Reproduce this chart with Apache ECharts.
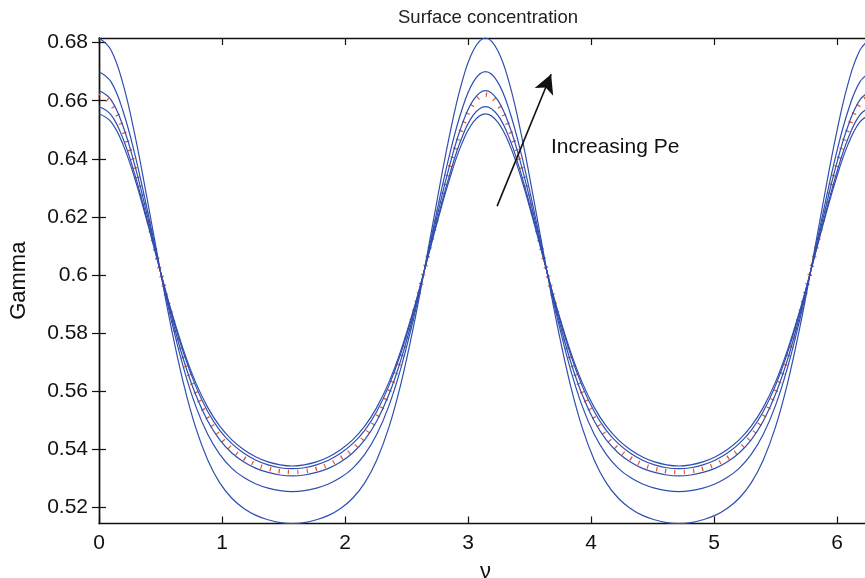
<!DOCTYPE html>
<html>
<head>
<meta charset="utf-8">
<script src="https://cdn.jsdelivr.net/npm/echarts@6/dist/echarts.min.js"></script>
<style>html,body{margin:0;padding:0;background:#fff;}#main{width:865px;height:578px;}</style>
</head>
<body>
<div id="main"></div>
<script>
// nu samples (k*pi/32)
var nu = [0, 0.0982, 0.1963, 0.2945, 0.3927, 0.4909, 0.5890, 0.6872, 0.7854, 0.8836, 0.9817, 1.0799, 1.1781, 1.2763, 1.3744, 1.4726, 1.5708, 1.6690, 1.7671, 1.8653, 1.9635, 2.0617, 2.1598, 2.2580, 2.3562, 2.4544, 2.5525, 2.6507, 2.7489, 2.8471, 2.9452, 3.0434, 3.1416, 3.2398, 3.3379, 3.4361, 3.5343, 3.6325, 3.7306, 3.8288, 3.9270, 4.0252, 4.1233, 4.2215, 4.3197, 4.4179, 4.5160, 4.6142, 4.7124, 4.8106, 4.9087, 5.0069, 5.1051, 5.2033, 5.3014, 5.3996, 5.4978, 5.5960, 5.6941, 5.7923, 5.8905, 5.9887, 6.0868, 6.1850, 6.2832];

var curveA = [0.6816, 0.6774, 0.6656, 0.6476, 0.6259, 0.6031, 0.5814, 0.5626, 0.5475, 0.5363, 0.5284, 0.5231, 0.5196, 0.5172, 0.5157, 0.5147, 0.5144,
0.5147, 0.5157, 0.5172, 0.5196, 0.5231, 0.5284, 0.5363, 0.5475, 0.5626, 0.5814, 0.6031, 0.6259, 0.6476, 0.6656, 0.6774, 0.6816,
0.6774, 0.6656, 0.6476, 0.6259, 0.6031, 0.5814, 0.5626, 0.5475, 0.5363, 0.5284, 0.5231, 0.5196, 0.5172, 0.5157, 0.5147, 0.5144,
0.5147, 0.5157, 0.5172, 0.5196, 0.5231, 0.5284, 0.5363, 0.5475, 0.5626, 0.5814, 0.6031, 0.6259, 0.6476, 0.6656, 0.6774, 0.6816];

var curveB = [0.6700, 0.6665, 0.6563, 0.6410, 0.6224, 0.6028, 0.5842, 0.5680, 0.5549, 0.5451, 0.5382, 0.5334, 0.5302, 0.5280, 0.5266, 0.5257, 0.5254,
0.5257, 0.5266, 0.5280, 0.5302, 0.5334, 0.5382, 0.5451, 0.5549, 0.5680, 0.5842, 0.6028, 0.6224, 0.6410, 0.6563, 0.6665, 0.6700,
0.6665, 0.6563, 0.6410, 0.6224, 0.6028, 0.5842, 0.5680, 0.5549, 0.5451, 0.5382, 0.5334, 0.5302, 0.5280, 0.5266, 0.5257, 0.5254,
0.5257, 0.5266, 0.5280, 0.5302, 0.5334, 0.5382, 0.5451, 0.5549, 0.5680, 0.5842, 0.6028, 0.6224, 0.6410, 0.6563, 0.6665, 0.6700];

var curveC = [0.6635, 0.6603, 0.6511, 0.6372, 0.6204, 0.6026, 0.5857, 0.5708, 0.5588, 0.5497, 0.5432, 0.5387, 0.5356, 0.5334, 0.5320, 0.5311, 0.5308,
0.5311, 0.5320, 0.5334, 0.5356, 0.5387, 0.5432, 0.5497, 0.5588, 0.5708, 0.5857, 0.6026, 0.6204, 0.6372, 0.6511, 0.6603, 0.6635,
0.6603, 0.6511, 0.6372, 0.6204, 0.6026, 0.5857, 0.5708, 0.5588, 0.5497, 0.5432, 0.5387, 0.5356, 0.5334, 0.5320, 0.5311, 0.5308,
0.5311, 0.5320, 0.5334, 0.5356, 0.5387, 0.5432, 0.5497, 0.5588, 0.5708, 0.5857, 0.6026, 0.6204, 0.6372, 0.6511, 0.6603, 0.6635];

var curveD = [0.6580, 0.6551, 0.6468, 0.6341, 0.6188, 0.6025, 0.5869, 0.5731, 0.5618, 0.5530, 0.5465, 0.5419, 0.5386, 0.5362, 0.5346, 0.5336, 0.5333,
0.5336, 0.5346, 0.5362, 0.5386, 0.5419, 0.5465, 0.5530, 0.5618, 0.5731, 0.5869, 0.6025, 0.6188, 0.6341, 0.6468, 0.6551, 0.6580,
0.6551, 0.6468, 0.6341, 0.6188, 0.6025, 0.5869, 0.5731, 0.5618, 0.5530, 0.5465, 0.5419, 0.5386, 0.5362, 0.5346, 0.5336, 0.5333,
0.5336, 0.5346, 0.5362, 0.5386, 0.5419, 0.5465, 0.5530, 0.5618, 0.5731, 0.5869, 0.6025, 0.6188, 0.6341, 0.6468, 0.6551, 0.6580];

var curveE = [0.6555, 0.6527, 0.6448, 0.6327, 0.6181, 0.6025, 0.5874, 0.5741, 0.5630, 0.5544, 0.5479, 0.5432, 0.5398, 0.5373, 0.5356, 0.5346, 0.5342,
0.5346, 0.5356, 0.5373, 0.5398, 0.5432, 0.5479, 0.5544, 0.5630, 0.5741, 0.5874, 0.6025, 0.6181, 0.6327, 0.6448, 0.6527, 0.6555,
0.6527, 0.6448, 0.6327, 0.6181, 0.6025, 0.5874, 0.5741, 0.5630, 0.5544, 0.5479, 0.5432, 0.5398, 0.5373, 0.5356, 0.5346, 0.5342,
0.5346, 0.5356, 0.5373, 0.5398, 0.5432, 0.5479, 0.5544, 0.5630, 0.5741, 0.5874, 0.6025, 0.6181, 0.6327, 0.6448, 0.6527, 0.6555];

var curveRed = [0.6621, 0.6590, 0.6500, 0.6364, 0.6200, 0.6026, 0.5860, 0.5715, 0.5597, 0.5508, 0.5444, 0.5399, 0.5369, 0.5347, 0.5333, 0.5324, 0.5321,
0.5324, 0.5333, 0.5347, 0.5369, 0.5399, 0.5444, 0.5508, 0.5597, 0.5715, 0.5860, 0.6026, 0.6200, 0.6364, 0.6500, 0.6590, 0.6621,
0.6590, 0.6500, 0.6364, 0.6200, 0.6026, 0.5860, 0.5715, 0.5597, 0.5508, 0.5444, 0.5399, 0.5369, 0.5347, 0.5333, 0.5324, 0.5321,
0.5324, 0.5333, 0.5347, 0.5369, 0.5399, 0.5444, 0.5508, 0.5597, 0.5715, 0.5860, 0.6026, 0.6200, 0.6364, 0.6500, 0.6590, 0.6621];

var xTicks = [0, 1, 2, 3, 4, 5, 6];
var xTickLabels = ['0', '1', '2', '3', '4', '5', '6'];
var yTicks = [0.52, 0.54, 0.56, 0.58, 0.60, 0.62, 0.64, 0.66, 0.68];
var yTickLabels = ['0.52', '0.54', '0.56', '0.58', '0.6', '0.62', '0.64', '0.66', '0.68'];
var arrowStart = [3.236, 0.6237];
var arrowEnd = [3.675, 0.6691];

var FONT = 'Liberation Sans, Arial, Helvetica, sans-serif';
var BLUE = '#2f4fb0';
var RED = '#ec4f25';

function pairs(arr) { return nu.map(function (x, i) { return [x, arr[i]]; }); }
function lbl(ticks, labels) {
  return function (v) {
    for (var i = 0; i < ticks.length; i++) if (Math.abs(ticks[i] - v) < 1e-6) return labels[i];
    return '';
  };
}

var axisLineStyle = { show: true, lineStyle: { color: '#111', width: 1.4 } };
var tickStyle = { show: true, inside: true, length: 7, lineStyle: { color: '#111', width: 1.2 } };

var chart = echarts.init(document.getElementById('main'), null, { renderer: 'canvas' });

function blue(name, arr) {
  return {
    name: name, type: 'line', data: pairs(arr), smooth: 0.4, symbol: 'none', z: 3,
    lineStyle: { color: BLUE, width: 1.2 }, animation: false
  };
}

var option = {
  backgroundColor: '#fff',
  animation: false,
  title: {
    text: 'Surface concentration', left: 393, top: 3,
    textStyle: { fontFamily: FONT, fontSize: 18.5, fontWeight: 'normal', color: '#222' }
  },
  grid: { left: 99, top: 38, width: 773, height: 485.5, containLabel: false, outerBoundsMode: 'none' },
  xAxis: [{
    type: 'value', min: 0, max: 6.2832, position: 'bottom',
    axisLine: axisLineStyle,
    axisTick: Object.assign({ customValues: xTicks }, tickStyle),
    axisLabel: { customValues: xTicks, formatter: lbl(xTicks, xTickLabels), fontFamily: FONT, fontSize: 21, color: '#111', margin: 9 },
    splitLine: { show: false },
    name: 'ν', nameLocation: 'middle', nameGap: 37,
    nameTextStyle: { fontFamily: FONT, fontSize: 22, color: '#111' }
  }, {
    type: 'value', min: 0, max: 6.2832, position: 'top',
    axisLine: axisLineStyle,
    axisTick: Object.assign({ customValues: xTicks }, tickStyle),
    axisLabel: { show: false }, splitLine: { show: false }
  }],
  yAxis: [{
    type: 'value', min: 0.5144, max: 0.6816, position: 'left',
    axisLine: axisLineStyle,
    axisTick: Object.assign({ customValues: yTicks }, tickStyle),
    axisLabel: { customValues: yTicks, formatter: lbl(yTicks, yTickLabels), fontFamily: FONT, fontSize: 21, color: '#111', margin: 11 },
    splitLine: { show: false },
    name: 'Gamma', nameLocation: 'middle', nameGap: 69, nameRotate: 90,
    nameTextStyle: { fontFamily: FONT, fontSize: 22, color: '#111' }
  }, {
    type: 'value', min: 0.5144, max: 0.6816, position: 'right',
    axisLine: axisLineStyle,
    axisTick: Object.assign({ customValues: yTicks }, tickStyle),
    axisLabel: { show: false }, splitLine: { show: false }
  }],
  graphic: [{
    type: 'text', z: 10,
    style: { x: 551, y: 147, text: 'Increasing Pe', font: '21px ' + FONT, fill: '#111', textAlign: 'left', textVerticalAlign: 'middle' }
  }],
  series: [
    {
      name: 'red', type: 'line', data: pairs(curveRed), smooth: 0.4, symbol: 'none', z: 2,
      lineStyle: { color: RED, width: 4.5, type: [1.2, 8.1], cap: 'butt' }
    },
    blue('A', curveA), blue('B', curveB), blue('C', curveC), blue('D', curveD), blue('E', curveE),
    {
      name: 'arrow', type: 'line', data: [], z: 5,
      markLine: {
        silent: true, symbol: ['none', 'arrow'], symbolSize: [15, 19],
        label: { show: false },
        lineStyle: { color: '#111', width: 1.6, type: 'solid' },
        data: [[{ coord: arrowStart }, { coord: arrowEnd }]]
      }
    }
  ]
};
chart.setOption(option);
</script>
</body>
</html>
